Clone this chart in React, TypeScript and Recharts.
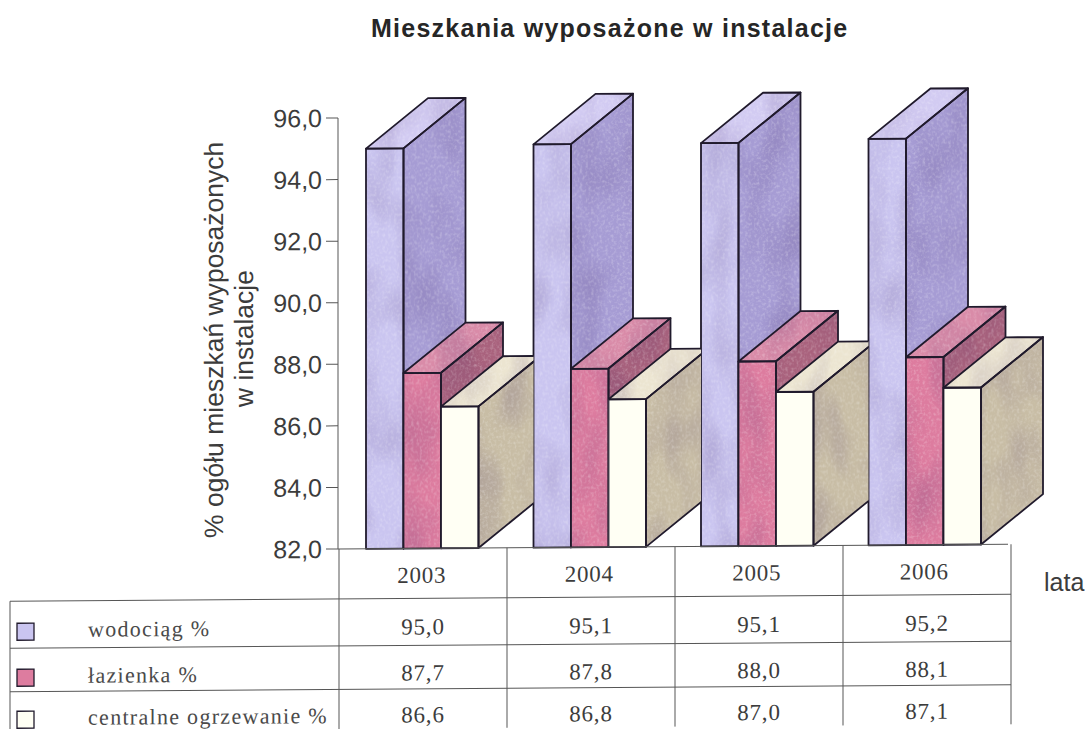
import React from "react";
import { BarChart, Bar, XAxis, YAxis } from "recharts";

const years = ["2003", "2004", "2005", "2006"];
const wodociag = [95.0, 95.1, 95.1, 95.2];
const lazienka = [87.7, 87.8, 88.0, 88.1];
const centralne = [86.6, 86.8, 87.0, 87.1];
const yTicks = [82, 84, 86, 88, 90, 92, 94, 96];
const seriesNames = ["wodociąg %", "łazienka %", "centralne ogrzewanie %"];
const title = "Mieszkania wyposażone w instalacje";
const yTitle = ["% ogółu mieszkań wyposażonych", "w instalacje"];

const data = years.map((year, i) => ({
  year,
  wodociag: wodociag[i],
  lazienka: lazienka[i],
  centralne: centralne[i],
}));

const fmt = (v: number) => v.toFixed(1).replace(".", ",");

const W = 1088;
const H = 729;
const LEFT = 338;
const TOP = 118;
const RIGHT = 1008;
const BOTTOM = 549;
const BAND = (RIGHT - LEFT) / years.length;
const DX = 62;
const DY = 50;
const STROKE = "#201a2c";
const LINE = "#565656";

const palette = [
  { front: "#cac5f0", top: "#d2cbf2", side: "#a69cd4" },
  { front: "#dd7c9f", top: "#d98ba8", side: "#a9627d" },
  { front: "#fffff4", top: "#ece5d1", side: "#c8bda5" },
];

const columnX = [339, 507, 675, 843, 1011];
const rowY = [599, 646, 689.5];
const rowText = [627, 673, 715];
const rowValues = [wodociag, lazienka, centralne];

function makeBox(seriesIndex: number, clipNext: boolean) {
  const c = palette[seriesIndex];
  return function Box(props: any) {
    const { x, y, width: w, height: h, index } = props;
    const b = y + h;
    const gap = BAND - 3 * w;
    const clipId = `next-group-${seriesIndex}-${index}`;
    const clip = clipNext && index < years.length - 1;
    const topFace = `${x},${y} ${x + w},${y} ${x + w + DX},${y - DY} ${x + DX},${y - DY}`;
    const sideFace = `${x + w},${y} ${x + w + DX},${y - DY} ${x + w + DX},${b - DY} ${x + w},${b}`;
    const frontFace = `${x},${y} ${x + w},${y} ${x + w},${b} ${x},${b}`;
    const faces: [string, string][] = [
      [sideFace, c.side],
      [topFace, c.top],
      [frontFace, c.front],
    ];
    return (
      <g>
        {clip && (
          <clipPath id={clipId}>
            <rect x={x} y={0} width={w + gap} height={H} />
          </clipPath>
        )}
        <g clipPath={clip ? `url(#${clipId})` : undefined}>
          {faces.map(([points, fill], i) => (
            <polygon key={i} points={points} fill={fill} filter={seriesIndex === 2 && i === 2 ? undefined : "url(#paper)"} />
          ))}
          {faces.map(([points], i) => (
            <polygon key={i} points={points} fill="none" stroke={STROKE} strokeWidth={1.8} strokeLinejoin="round" />
          ))}
        </g>
      </g>
    );
  };
}

const PaperFilter = () => (
  <defs>
    <filter id="paper" x="0%" y="0%" width="100%" height="100%" colorInterpolationFilters="sRGB">
      <feTurbulence type="fractalNoise" baseFrequency="0.35" numOctaves={2} seed={4} result="grain" />
      <feColorMatrix
        in="grain"
        type="matrix"
        values="0 0 0 0 1  0 0 0 0 1  0 0 0 0 1  0.6 0 0 0 -0.27"
        result="light"
      />
      <feTurbulence type="fractalNoise" baseFrequency="0.03 0.015" numOctaves={2} seed={9} result="wash" />
      <feColorMatrix
        in="wash"
        type="matrix"
        values="0 0 0 0 0.25  0 0 0 0 0.15  0 0 0 0 0.4  0.4 0 0 0 -0.16"
        result="dark"
      />
      <feMerge result="merged">
        <feMergeNode in="SourceGraphic" />
        <feMergeNode in="dark" />
        <feMergeNode in="light" />
      </feMerge>
      <feComposite in="merged" in2="SourceAlpha" operator="in" />
    </filter>
  </defs>
);

const YTitle = () => (
  <g fontFamily="'Liberation Sans', Arial, sans-serif" fontSize={26.5} fill="#3c3c3c" textAnchor="middle">
    <text transform="translate(223 339) rotate(-90)">{yTitle[0]}</text>
    <text transform="translate(253 338) rotate(-90)">{yTitle[1]}</text>
  </g>
);

const Table = () => (
  <g>
    {columnX.map((x) => (
      <line key={x} x1={x} y1={BOTTOM} x2={x} y2={H + 10} stroke={LINE} strokeWidth={1} />
    ))}
    <line x1={10} y1={rowY[0]} x2={10} y2={H + 10} stroke={LINE} strokeWidth={1} />
    {rowY.map((y) => (
      <line key={y} x1={10} y1={y} x2={1011} y2={y} stroke={LINE} strokeWidth={1} />
    ))}
    {seriesNames.map((name, i) => (
      <g key={name}>
        <rect x={17} y={rowText[i] - 6} width={17} height={17} fill={palette[i].front} stroke={STROKE} strokeWidth={1.3} />
        <text x={88} y={rowText[i] + 8} fontFamily="'Liberation Serif', serif" fontSize={22} letterSpacing={1.3} fill="#4a4a4a">
          {name}
        </text>
      </g>
    ))}
    {rowValues.map((vals, r) =>
      vals.map((v, c) => (
        <text
          key={`${r}-${c}`}
          x={(columnX[c] + columnX[c + 1]) / 2}
          y={rowText[r] + 8}
          textAnchor="middle"
          fontFamily="'Liberation Serif', serif"
          fontSize={23}
          letterSpacing={0.8}
          fill="#3c3c3c"
        >
          {fmt(v)}
        </text>
      ))
    )}
  </g>
);

export default function App() {
  return (
    <div style={{ position: "absolute", left: 0, top: 0, width: W, height: H, overflow: "hidden", background: "#fff" }}>
      <div style={{ position: "absolute", left: 0, top: 0, transform: "skewY(-0.4deg)", transformOrigin: `${LEFT}px ${BOTTOM}px` }}>
        <BarChart
          width={W}
          height={H}
          data={data}
          margin={{ top: TOP, left: 0, right: W - RIGHT, bottom: 0 }}
          barGap={0}
          barSize={37.5}
        >
          <PaperFilter />
          <YAxis
            width={LEFT}
            domain={[82, 96]}
            ticks={yTicks}
            tickFormatter={fmt}
            tickSize={12}
            tickMargin={4}
            interval={0}
            stroke={LINE}
            tick={{ fontFamily: "'Liberation Sans', Arial, sans-serif", fontSize: 25, fill: "#3c3c3c" }}
          />
          <XAxis
            dataKey="year"
            height={H - BOTTOM}
            tickLine={false}
            tickMargin={12}
            stroke={LINE}
            interval={0}
            tick={{ fontFamily: "'Liberation Serif', serif", fontSize: 23, letterSpacing: 0.8, fill: "#3c3c3c" }}
          />
          <Table />
          <YTitle />
          <Bar dataKey="wodociag" isAnimationActive={false} shape={makeBox(0, false)} />
          <Bar dataKey="lazienka" isAnimationActive={false} shape={makeBox(1, false)} />
          <Bar dataKey="centralne" isAnimationActive={false} shape={makeBox(2, true)} />
        </BarChart>
      </div>
      <div
        style={{
          position: "absolute",
          left: 371,
          top: 14,
          fontFamily: "'Liberation Sans', Arial, sans-serif",
          fontWeight: 700,
          fontSize: 25,
          letterSpacing: 1.25,
          lineHeight: "28px",
          color: "#262626",
          whiteSpace: "nowrap",
        }}
      >
        {title}
      </div>
      <div
        style={{
          position: "absolute",
          left: 1044,
          top: 568,
          fontFamily: "'Liberation Sans', Arial, sans-serif",
          fontSize: 25,
          lineHeight: "28px",
          color: "#3c3c3c",
        }}
      >
        lata
      </div>
    </div>
  );
}
